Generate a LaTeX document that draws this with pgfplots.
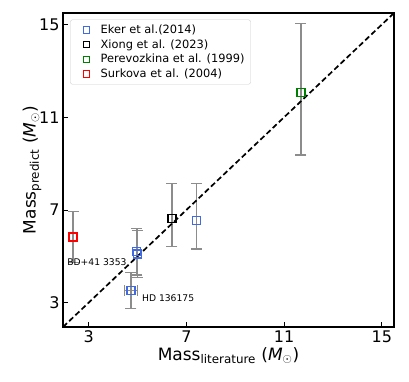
\documentclass[border=0pt]{standalone}
\usepackage{fontspec}
\setmainfont{DejaVu Sans}
\usepackage{pgfplots}
\pgfplotsset{compat=1.18}

\definecolor{ekerblue}{HTML}{4169E1}
\definecolor{pgreen}{HTML}{008000}
\definecolor{sred}{HTML}{FF0000}
\definecolor{ebgray}{HTML}{8C8C8C}

\begin{document}
\begin{tikzpicture}
\begin{axis}[
    name=ax,
    scale only axis,
    width=331pt, height=314pt,
    xmin=1.95, xmax=15.5, ymin=1.95, ymax=15.5,
    xtick={3,7,11,15}, ytick={3,7,11,15},
    tick align=inside,
    xtick pos=bottom, ytick pos=left,
    major tick length=5pt,
    tick style={black, line width=0.8pt},
    axis line style={line width=1.3pt},
    /pgf/number format/assume math mode=true,
    tick label style={font=\fontsize{16}{18}\selectfont},
    label style={font=\fontsize{17}{20}\selectfont},
    xlabel={Mass\textsubscript{literature} (\textit{M}$_\odot$)},
    ylabel={Mass\textsubscript{predict} (\textit{M}$_\odot$)},
    xlabel style={yshift=2pt},
    ylabel style={yshift=-9pt},
    clip=false,
    legend cell align=left,
    legend style={at={(0.022,0.979)}, anchor=north west,
        font=\fontsize{11.4}{13}\selectfont,
        draw=black!20, rounded corners=2pt, fill=white,
        row sep=0.6pt, inner xsep=4pt, inner ysep=3pt},
    legend image code/.code={
        \draw[#1, mark size=3.3pt, line width=1pt] plot coordinates {(0.42cm,0cm)};
        \path[draw=none, fill=none] (0,0) rectangle (0.85cm,0.01cm);},
    every axis plot/.append style={only marks, mark=square, mark size=4pt,
        line width=1.3pt,
        error bars/y dir=both, error bars/y explicit,
        error bars/error bar style={ebgray, line width=1.5pt},
        error bars/error mark options={rotate=90, ebgray, mark size=5.5pt, line width=1.3pt}},
]

% Eker et al. (2014)
\addplot[ekerblue] coordinates {
    (4.97,5.20) +- (0,1.00)
    (4.99,5.10) +- (0,1.00)
    (7.42,6.54) += (0,1.61) -= (0,1.22)
};
\addlegendentry{Eker et al.(2014)}

% Xiong et al. (2023)
\addplot[black] coordinates {
    (6.41,6.64) += (0,1.51) -= (0,1.22)
};
\addlegendentry{Xiong et al. (2023)}

% Perevozkina et al. (1999)
\addplot[pgreen] coordinates {
    (11.69,12.06) += (0,3.00) -= (0,2.69)
};
\addlegendentry{Perevozkina et al. (1999)}

% Surkova et al. (2004)
\addplot[sred] coordinates {
    (2.36,5.83) +- (0,1.10)
};
\addlegendentry{Surkova et al. (2004)}

% HD 136175 (Eker, with x error)
\addplot[ekerblue, forget plot,
    error bars/x dir=both, error bars/x explicit] coordinates {
    (4.73,3.52) +- (0.27,0.77)
};

% one-to-one line
\addplot[forget plot, no marks, sharp plot, black, line width=1.7pt,
    error bars/y dir=none,
    dash pattern=on 5.5pt off 3pt] coordinates {(1.95,1.95) (15.5,15.5)};

\node[anchor=west, inner sep=0pt, font=\fontsize{9.2}{11}\selectfont]
    at (axis cs:2.12,4.76) {BD+41 3353};
\node[anchor=west, inner sep=0pt, font=\fontsize{9.2}{11}\selectfont]
    at (axis cs:5.18,3.20) {HD 136175};
\end{axis}
\path ([xshift=-63pt,yshift=-55pt]ax.south west) rectangle ([xshift=15pt,yshift=13pt]ax.north east);
\end{tikzpicture}
\end{document}
